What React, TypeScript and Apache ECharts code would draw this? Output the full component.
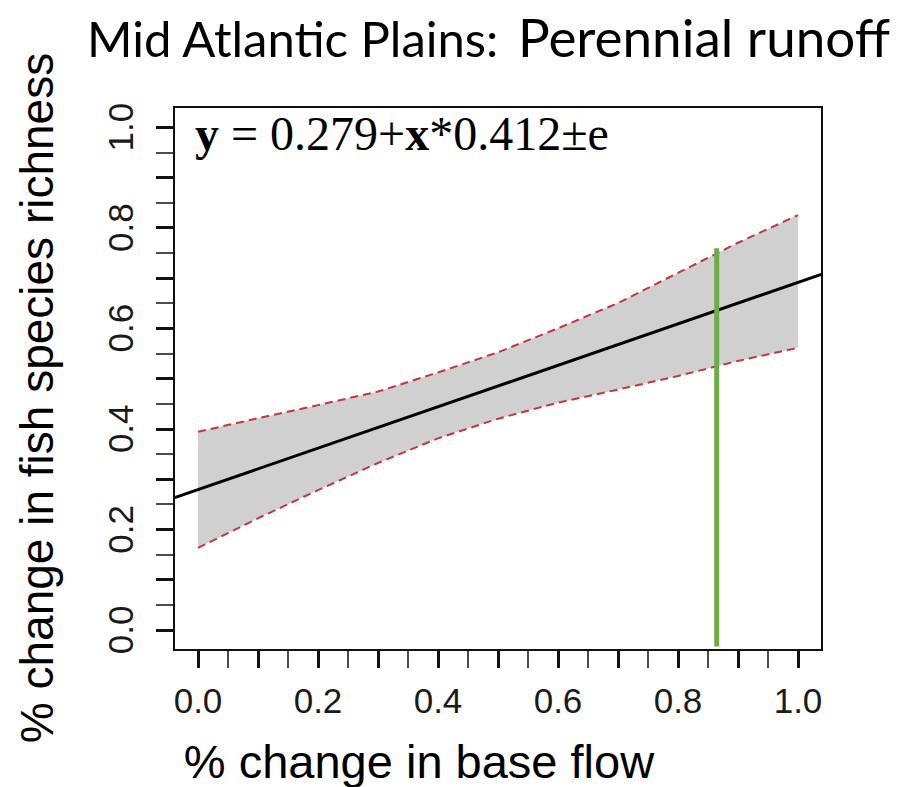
import React, { useEffect, useRef } from "react";
import * as echarts from "echarts";

const bandX = [0, 0.1, 0.2, 0.3, 0.4, 0.5, 0.6, 0.7, 0.8, 0.9, 1.0];
const bandUpper = [0.394, 0.421, 0.447, 0.474, 0.512, 0.552, 0.6, 0.65, 0.71, 0.77, 0.825];
const bandLower = [0.163, 0.222, 0.278, 0.332, 0.381, 0.42, 0.452, 0.478, 0.505, 0.535, 0.561];
const fitX = [-0.04, 1.04];
const fitY = [0.2625, 0.7075];
const markerX = [0.8645, 0.8645];
const markerY = [-0.033, 0.759];
const majorTicks = [0, 0.1, 0.2, 0.3, 0.4, 0.5, 0.6, 0.7, 0.8, 0.9, 1.0];
const minorTicks = [0.05, 0.15, 0.25, 0.35, 0.45, 0.55, 0.65, 0.75, 0.85, 0.95];
const tickLabels = [0, 0.2, 0.4, 0.6, 0.8, 1.0];

const axisMin = -0.04;
const axisMax = 1.04;

export default function App() {
  const ref = useRef<HTMLDivElement>(null);
  useEffect(() => {
    if (!ref.current) return;
    const chart = echarts.init(ref.current, null, { renderer: "svg" });
    const labelFont = "'Liberation Sans', Arial, sans-serif";
    const zip = (a: number[], b: number[]) => a.map((v, i) => [v, b[i]]);
    const mkAxis = (
      pos: string,
      ticks: number[],
      width: number,
      labels: boolean,
      rotate: number,
      margin: number
    ) => ({
      type: "value",
      position: pos,
      min: axisMin,
      max: axisMax,
      axisLine: { show: false, onZero: false },
      splitLine: { show: false },
      axisTick: {
        show: true,
        inside: false,
        customValues: ticks,
        length: 18,
        lineStyle: { color: "#111", width },
      },
      axisLabel: labels
        ? {
            show: true,
            customValues: tickLabels,
            formatter: (v: number) => v.toFixed(1),
            fontFamily: labelFont,
            fontSize: 35,
            color: "#1a1a1a",
            rotate,
            margin,
          }
        : { show: false },
    });
    chart.setOption({
      animation: false,
      grid: {
        left: 174,
        right: 85,
        top: 107,
        bottom: 137,
        show: true,
        borderColor: "#111",
        borderWidth: 2,
        backgroundColor: "transparent",
      },
      xAxis: [
        mkAxis("bottom", majorTicks, 3, true, 0, 33),
        mkAxis("bottom", minorTicks, 1.5, false, 0, 33),
      ],
      yAxis: [
        mkAxis("left", majorTicks, 3, true, 90, 36),
        mkAxis("left", minorTicks, 1.5, false, 90, 36),
      ],
      series: [
        {
          type: "custom",
          coordinateSystem: "cartesian2d",
          xAxisIndex: 0,
          yAxisIndex: 0,
          data: [[0, 0]],
          silent: true,
          renderItem: (_p: any, api: any) => {
            const pts = [
              ...zip(bandX, bandUpper),
              ...zip(bandX, bandLower).reverse(),
            ].map((p) => api.coord(p));
            return {
              type: "polygon",
              shape: { points: pts },
              style: { fill: "#d0d0d0", stroke: "none" },
            };
          },
        },
        {
          type: "line",
          data: zip(bandX, bandUpper),
          symbol: "none",
          lineStyle: { color: "#c4373a", width: 2, type: [8, 5] },
        },
        {
          type: "line",
          data: zip(bandX, bandLower),
          symbol: "none",
          lineStyle: { color: "#c4373a", width: 2, type: [8, 5] },
        },
        {
          type: "line",
          data: zip(fitX, fitY),
          symbol: "none",
          lineStyle: { color: "#000", width: 3 },
        },
        {
          type: "line",
          data: zip(markerX, markerY),
          symbol: "none",
          lineStyle: { color: "#6dad45", width: 5 },
        },
      ],
      graphic: [
        {
          type: "text",
          x: 87,
          y: 38,
          style: {
            text: "Mid Atlantic Plains:",
            font: "49px Lato, 'Noto Sans', sans-serif",
            fill: "#000",
            align: "left",
            verticalAlign: "middle",
          },
        },
        {
          type: "text",
          x: 890,
          y: 36,
          style: {
            text: "Perennial runoff",
            font: "53px Lato, 'Noto Sans', sans-serif",
            fill: "#000",
            align: "right",
            verticalAlign: "middle",
          },
        },
        {
          type: "text",
          x: 195,
          y: 133,
          z: 100,
          style: {
            text: "{b|y} = 0.279+{b|x}*0.412±e",
            font: "48px 'Liberation Serif', 'Times New Roman', serif",
            fill: "#000",
            align: "left",
            verticalAlign: "middle",
            rich: {
              b: {
                fontWeight: "bold",
                fontSize: 48,
                fontFamily: "'Liberation Serif', 'Times New Roman', serif",
              },
            },
          },
        },
        {
          type: "text",
          x: 419,
          y: 761,
          style: {
            text: "% change in base flow",
            font: "47px 'Liberation Sans', Arial, sans-serif",
            fill: "#000",
            align: "center",
            verticalAlign: "middle",
          },
        },
        {
          type: "text",
          x: 37,
          y: 398,
          rotation: Math.PI / 2,
          style: {
            text: "% change in fish species richness",
            font: "46px 'Liberation Sans', Arial, sans-serif",
            fill: "#000",
            align: "center",
            verticalAlign: "middle",
          },
        },
      ],
    });
    return () => chart.dispose();
  }, []);
  return (
    <div
      ref={ref}
      style={{ position: "absolute", left: 0, top: 0, width: 907, height: 787 }}
    />
  );
}
